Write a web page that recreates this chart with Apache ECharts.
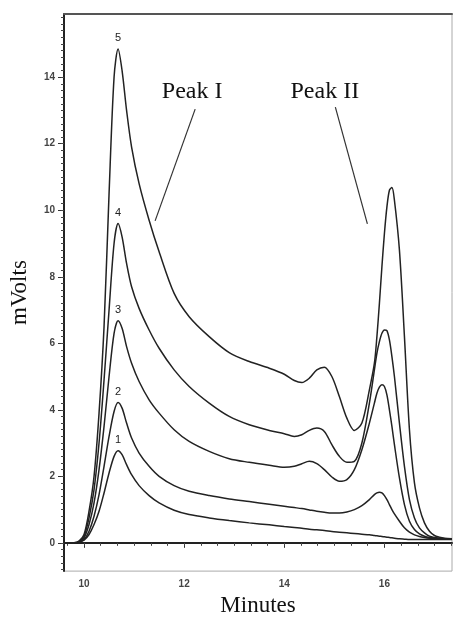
<!DOCTYPE html>
<html>
<head>
<meta charset="utf-8">
<script src="https://cdn.jsdelivr.net/npm/echarts@6/dist/echarts.min.js"></script>
<style>
  html, body { margin: 0; padding: 0; background: #fff; }
  #chart { width: 454px; height: 622px; }
</style>
</head>
<body>
<div id="chart"></div>
<script>
// Retention time (minutes) shared by all five chromatograms
const minutes = [9.6, 9.8, 9.9, 10.0, 10.1, 10.2, 10.3, 10.4, 10.5, 10.6, 10.68, 10.76, 10.85, 10.95,
  11.1, 11.3, 11.5, 11.8, 12.1, 12.5, 12.9, 13.3, 13.7, 14.0, 14.2, 14.35, 14.5, 14.65, 14.8, 14.95,
  15.1, 15.25, 15.4, 15.55, 15.7, 15.8, 15.85, 15.9, 15.95, 16.0, 16.05, 16.1, 16.15, 16.2, 16.3,
  16.4, 16.5, 16.6, 16.7, 16.8, 16.9, 17.0, 17.1, 17.2, 17.35];

// Detector response (mV) for runs 1..5
const run1 = [0, 0, 0.02, 0.08, 0.25, 0.55, 0.95, 1.5, 2.1, 2.6, 2.77, 2.65, 2.35, 2.05,
  1.72, 1.42, 1.2, 0.98, 0.85, 0.75, 0.67, 0.6, 0.54, 0.49, 0.46, 0.44, 0.41, 0.39, 0.37, 0.34,
  0.32, 0.3, 0.28, 0.26, 0.24, 0.22, 0.21, 0.2, 0.19, 0.18, 0.17, 0.16, 0.15, 0.14, 0.12,
  0.11, 0.1, 0.1, 0.1, 0.1, 0.1, 0.1, 0.1, 0.1, 0.1];
const run2 = [0, 0, 0.02, 0.1, 0.35, 0.8, 1.45, 2.3, 3.2, 3.95, 4.22, 4.05, 3.6, 3.15,
  2.7, 2.3, 2.0, 1.72, 1.55, 1.42, 1.32, 1.24, 1.16, 1.1, 1.06, 1.03, 0.99, 0.95, 0.92, 0.9,
  0.9, 0.93, 1.0, 1.12, 1.3, 1.45, 1.5, 1.52, 1.5, 1.42, 1.3, 1.15, 1.0, 0.87, 0.65,
  0.45, 0.32, 0.24, 0.19, 0.16, 0.14, 0.13, 0.12, 0.12, 0.12];
const run3 = [0, 0, 0.03, 0.15, 0.55, 1.2, 2.2, 3.5, 5.0, 6.3, 6.68, 6.45, 5.9, 5.4,
  4.85, 4.3, 3.9, 3.4, 3.05, 2.75, 2.53, 2.42, 2.33, 2.27, 2.3, 2.38, 2.45, 2.38, 2.2, 1.98,
  1.85, 1.9, 2.2, 2.8, 3.6, 4.2, 4.5, 4.68, 4.75, 4.7, 4.45, 4.0, 3.5, 2.95, 1.95,
  1.15, 0.65, 0.4, 0.27, 0.2, 0.16, 0.14, 0.13, 0.12, 0.12];
const run4 = [0, 0, 0.04, 0.2, 0.75, 1.6, 3.0, 4.9, 7.0, 9.0, 9.6, 9.2, 8.4, 7.7,
  7.05, 6.4, 5.85, 5.2, 4.7, 4.2, 3.8, 3.55, 3.38, 3.28, 3.2, 3.25, 3.38, 3.45, 3.35, 2.95,
  2.6, 2.42, 2.45, 3.0, 4.2, 5.2, 5.7, 6.05, 6.3, 6.4, 6.38, 6.1, 5.6, 5.0, 3.6,
  2.3, 1.3, 0.75, 0.45, 0.3, 0.2, 0.16, 0.14, 0.13, 0.12];
const run5 = [0, 0, 0.05, 0.25, 0.95, 2.0, 3.9, 6.5, 10.5, 14.0, 14.85, 14.2, 13.0, 11.9,
  10.8, 9.7, 8.75, 7.5, 6.8, 6.2, 5.72, 5.45, 5.25, 5.07, 4.88, 4.82, 4.95, 5.2, 5.28, 5.0,
  4.4, 3.75, 3.38, 3.6, 4.6, 5.4, 6.2, 7.2, 8.3, 9.3, 10.1, 10.6, 10.68, 10.3, 8.8,
  6.2, 3.4, 1.8, 1.05, 0.6, 0.35, 0.22, 0.17, 0.14, 0.12];

const runs = [run1, run2, run3, run4, run5];
const runLabels = ['1', '2', '3', '4', '5'];
const peakNames = ['Peak I', 'Peak II'];

// Labelled tick values
const xTickValues = [10, 12, 14, 16];
const yTickValues = [0, 2, 4, 6, 8, 10, 12, 14];

const X_MIN = 9.6, X_MAX = 17.35;
const Y_MIN = -0.85, Y_MAX = 15.9;

// Minor tick positions: every 20 s on time, every 0.2 mV on response
const xMinor = [];
for (let k = 29; k <= 52; k++) xMinor.push(k / 3);
const yMinor = [];
for (let k = -4; k <= 79; k++) yMinor.push(k / 5);

const serif = 'Liberation Serif, Times New Roman, serif';
const sans = 'Liberation Sans, Arial, sans-serif';

const chart = echarts.init(document.getElementById('chart'), null, { renderer: 'canvas' });

const series = runs.map((vals, i) => {
  const s = {
    type: 'line',
    data: minutes.map((t, j) => [t, vals[j]]),
    showSymbol: false,
    smooth: 0.3,
    silent: true,
    xAxisIndex: 0,
    yAxisIndex: 0,
    lineStyle: { color: '#222', width: 1.5 },
    markPoint: {
      symbol: 'circle',
      symbolSize: 0,
      silent: true,
      data: [{
        type: 'max',
        label: {
          show: true, position: 'top', distance: 5,
          formatter: runLabels[i], color: '#222', fontSize: 11, fontFamily: sans
        }
      }]
    }
  };
  if (i === runs.length - 1) {
    s.markPoint.data.push(
      { coord: [12.16, 13.55], label: { show: true, position: 'inside', formatter: peakNames[0], color: '#111', fontSize: 24, fontFamily: serif } },
      { coord: [14.81, 13.55], label: { show: true, position: 'inside', formatter: peakNames[1], color: '#111', fontSize: 24, fontFamily: serif } }
    );
    s.markLine = {
      silent: true,
      symbol: ['none', 'none'],
      label: { show: false },
      lineStyle: { color: '#333', width: 1.2, type: 'solid' },
      data: [
        [{ coord: [12.22, 13.04] }, { coord: [11.42, 9.68] }],
        [{ coord: [15.02, 13.1] }, { coord: [15.66, 9.59] }]
      ]
    };
  }
  return s;
});

chart.setOption({
  animation: false,
  backgroundColor: '#fff',
  grid: { left: 64, right: 2, top: 14, bottom: 35, show: true, borderColor: '#aaa', borderWidth: 1 },
  xAxis: [
    {
      type: 'value', min: X_MIN, max: X_MAX, position: 'bottom',
      axisLine: { show: true, lineStyle: { color: '#222', width: 2 } },
      axisTick: { show: true, customValues: xTickValues, length: 5, lineStyle: { color: '#333', width: 1 } },
      axisLabel: { customValues: xTickValues, fontSize: 10, fontWeight: 'bold', color: '#444', fontFamily: sans, margin: 8 },
      splitLine: { show: false },
      name: 'Minutes', nameLocation: 'middle', nameGap: 11,
      nameTextStyle: { fontFamily: serif, fontSize: 23, color: '#111' }
    },
    {
      type: 'value', min: X_MIN, max: X_MAX, position: 'bottom',
      axisLine: { show: false },
      axisTick: { show: true, customValues: xMinor, length: 3, lineStyle: { color: '#444', width: 1 } },
      axisLabel: { show: false },
      splitLine: { show: false }
    },
    {
      type: 'value', min: X_MIN, max: X_MAX, position: 'top',
      axisLine: { show: true, lineStyle: { color: '#555', width: 2 } },
      axisTick: { show: false }, axisLabel: { show: false }, splitLine: { show: false }
    }
  ],
  yAxis: [
    {
      type: 'value', min: Y_MIN, max: Y_MAX, position: 'left',
      axisLine: { show: true, lineStyle: { color: '#222', width: 2 } },
      axisTick: { show: true, customValues: yTickValues, length: 6, lineStyle: { color: '#333', width: 1 } },
      axisLabel: { customValues: yTickValues, fontSize: 10, fontWeight: 'bold', color: '#444', fontFamily: sans, margin: 9 },
      splitLine: { show: false },
      name: 'mVolts', nameLocation: 'middle', nameGap: 33, nameRotate: 90,
      nameTextStyle: { fontFamily: serif, fontSize: 23, color: '#111' }
    },
    {
      type: 'value', min: Y_MIN, max: Y_MAX, position: 'left',
      axisLine: { show: false },
      axisTick: { show: true, customValues: yMinor, length: 3, lineStyle: { color: '#444', width: 1 } },
      axisLabel: { show: false },
      splitLine: { show: false }
    }
  ],
  series: series
});
</script>
</body>
</html>
